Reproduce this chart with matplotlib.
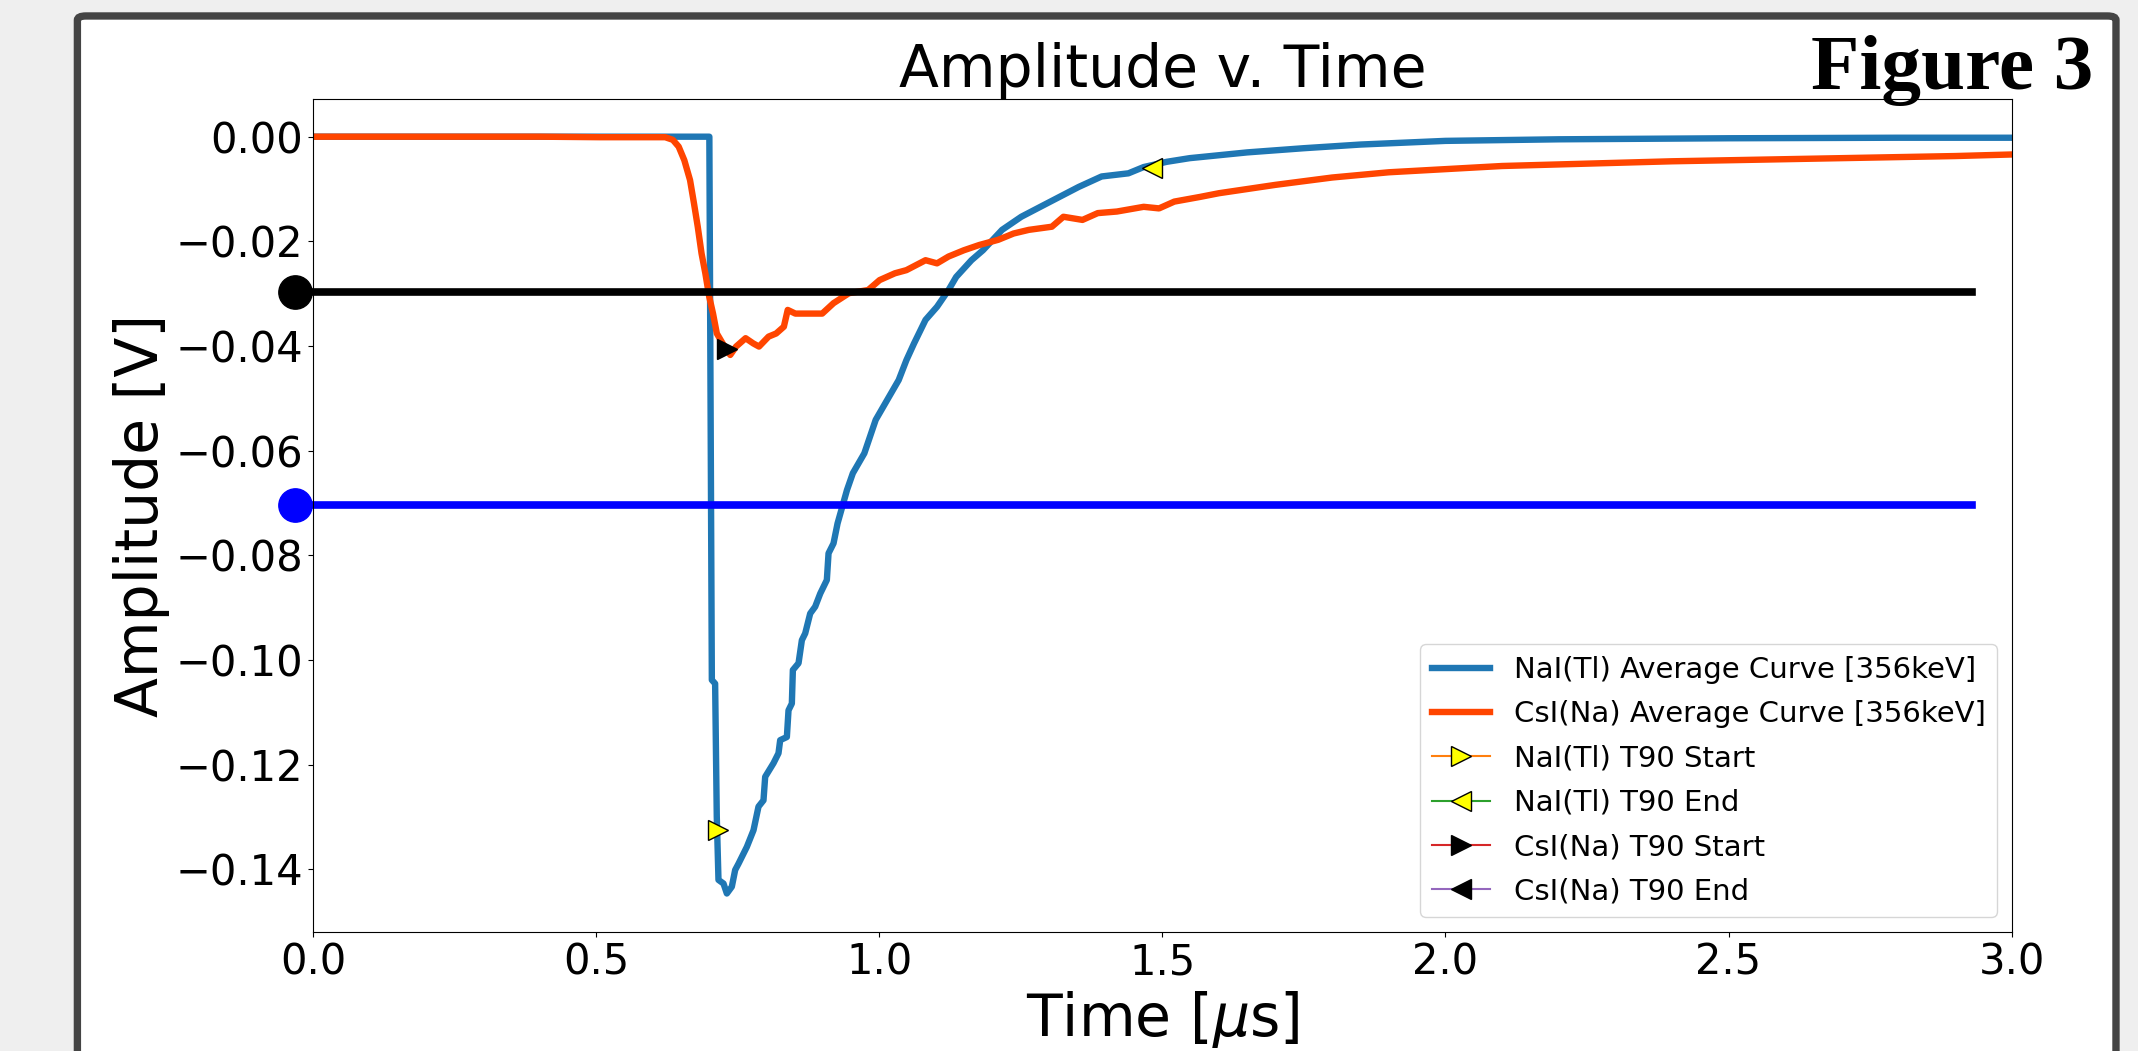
import matplotlib.pyplot as plt
from matplotlib.patches import FancyBboxPatch

# NaI(Tl) average curve [356keV]
nai_t = [0.0, 0.20, 0.40, 0.60, 0.686, 0.700, 0.7044, 0.7102, 0.7131, 0.7161, 0.7250,
         0.7309, 0.7397, 0.7456, 0.7515, 0.7662, 0.7780, 0.7868, 0.7956, 0.7986, 0.8133,
         0.8221, 0.8251, 0.8369, 0.8398, 0.8457, 0.8475, 0.8575, 0.8634, 0.8693, 0.8781,
         0.8869, 0.8958, 0.9075, 0.9105, 0.9193, 0.9264, 0.9431, 0.9534, 0.9737, 0.9938,
         1.0141, 1.0344, 1.0480, 1.0615, 1.0818, 1.1021, 1.1224, 1.1359, 1.1629, 1.1832,
         1.2170, 1.2509, 1.2846, 1.3184, 1.3523, 1.3928, 1.4401, 1.4671, 1.5078, 1.5484,
         1.567, 1.65, 1.75, 1.85, 2.0, 2.2, 2.5, 2.8, 3.0, 3.05]
nai_v = [0.0, 0.0, 0.0, 0.0, 0.0, 0.0, -0.1038, -0.1045, -0.1299, -0.1420, -0.1427,
         -0.1446, -0.1433, -0.1401, -0.1389, -0.1357, -0.1325, -0.1280, -0.1268, -0.1223, -0.1197,
         -0.1178, -0.1153, -0.1147, -0.1096, -0.1083, -0.1019, -0.1006, -0.0962, -0.0949, -0.0911,
         -0.0898, -0.0873, -0.0847, -0.0796, -0.0777, -0.0739, -0.0675, -0.0643, -0.0605, -0.0541,
         -0.0503, -0.0465, -0.0427, -0.0395, -0.0350, -0.0325, -0.0293, -0.0268, -0.0236, -0.0217,
         -0.0178, -0.0153, -0.0134, -0.0115, -0.0096, -0.0076, -0.0070, -0.0058, -0.0048, -0.0041,
         -0.0039, -0.0030, -0.0022, -0.0015, -0.0008, -0.0005, -0.0003, -0.0002, -0.0002, -0.0002]

# CsI(Na) average curve [356keV]
csi_t = [0.0, 0.20, 0.40, 0.507, 0.622, 0.6355, 0.6458, 0.6558, 0.6659, 0.6728, 0.6795,
         0.6862, 0.6929, 0.6998, 0.7065, 0.7132, 0.7235, 0.7369, 0.7472, 0.7640, 0.7776,
         0.7877, 0.8046, 0.8180, 0.8316, 0.8384, 0.8519, 0.8723, 0.8993, 0.9194, 0.9466,
         0.9804, 1.0007, 1.0277, 1.0480, 1.0818, 1.1021, 1.1224, 1.1495, 1.1765, 1.2102,
         1.2373, 1.2643, 1.3049, 1.3253, 1.3590, 1.3860, 1.4198, 1.4671, 1.4942, 1.5212,
         1.567, 1.60, 1.70, 1.80, 1.90, 2.0, 2.1, 2.2, 2.3, 2.4, 2.5, 2.6, 2.7, 2.8, 2.9,
         3.0, 3.05]
csi_v = [0.0, 0.0, 0.0, -0.0001, -0.0001, -0.0006, -0.0019, -0.0045, -0.0083, -0.0127, -0.0172,
         -0.0223, -0.0261, -0.0306, -0.0338, -0.0376, -0.0395, -0.0417, -0.0401, -0.0385, -0.0395,
         -0.0401, -0.0382, -0.0376, -0.0363, -0.0331, -0.0338, -0.0338, -0.0338, -0.0318, -0.0299,
         -0.0293, -0.0274, -0.0261, -0.0255, -0.0236, -0.0242, -0.0229, -0.0217, -0.0207, -0.0197,
         -0.0185, -0.0178, -0.0172, -0.0153, -0.0159, -0.0146, -0.0143, -0.0134, -0.0137, -0.0124,
         -0.0115, -0.0108, -0.0092, -0.0078, -0.0068, -0.0062, -0.0056, -0.0053, -0.0050, -0.0047,
         -0.0045, -0.0043, -0.0041, -0.0039, -0.0037, -0.0034, -0.0034]

# T90 markers (time, amplitude)
nai_start = (0.7155, -0.1325)
nai_end = (1.482, -0.0060)
csi_start = (0.732, -0.0406)
csi_end = (3.40, -0.0030)

# threshold lines
csi_level = -0.0297
nai_level = -0.0704
level_t = [-0.031, 2.93]

fig = plt.figure(figsize=(21.38, 10.51), dpi=100, facecolor='#efefef')
frame = FancyBboxPatch((0.0362, -0.05), 0.9535, 1.0348,
                       boxstyle='round,pad=0,rounding_size=0.004',
                       transform=fig.transFigure, facecolor='white',
                       edgecolor='#444444', linewidth=5.3, zorder=-5)
fig.patches.append(frame)

ax = fig.add_axes([0.1464, 0.1135, 0.7945, 0.7923])

ax.plot(nai_t, nai_v, color='C0', lw=4.6, label='NaI(Tl) Average Curve [356keV]')
ax.plot(csi_t, csi_v, color='orangered', lw=4.6, label='CsI(Na) Average Curve [356keV]')
ax.plot(*nai_start, marker='>', color='C1', markerfacecolor='yellow', markeredgecolor='black',
        markersize=15, label='NaI(Tl) T90 Start')
ax.plot(*nai_end, marker='<', color='C2', markerfacecolor='yellow', markeredgecolor='black',
        markersize=15, label='NaI(Tl) T90 End')
ax.plot(*csi_start, marker='>', color='C3', markerfacecolor='black', markeredgecolor='black',
        markersize=15, label='CsI(Na) T90 Start')
ax.plot(*csi_end, marker='<', color='C4', markerfacecolor='black', markeredgecolor='black',
        markersize=15, label='CsI(Na) T90 End')

ax.plot(level_t, [csi_level, csi_level], color='k', lw=5.5, marker='o', markevery=[0],
        markersize=24, clip_on=False)
ax.plot(level_t, [nai_level, nai_level], color='b', lw=5.5, marker='o', markevery=[0],
        markersize=24, clip_on=False)

ax.set_xlim(0, 3.0)
ax.set_ylim(-0.1519, 0.0072)
ax.set_xticks([0.0, 0.5, 1.0, 1.5, 2.0, 2.5, 3.0])
ax.set_yticks([0.00, -0.02, -0.04, -0.06, -0.08, -0.10, -0.12, -0.14])
ax.tick_params(labelsize=30)

ax.set_title('Amplitude v. Time', fontsize=42)
ax.set_xlabel(r'Time [$\mu$s]', fontsize=42)
ax.set_ylabel('Amplitude [V]', fontsize=42)
ax.legend(loc='lower right', fontsize=21, labelspacing=0.56)

fig.text(0.979, 0.915, 'Figure 3', ha='right', va='baseline', fontsize=57,
         fontweight='bold', family='Liberation Serif')

fig.savefig('out.png', dpi=100, facecolor=fig.get_facecolor())
